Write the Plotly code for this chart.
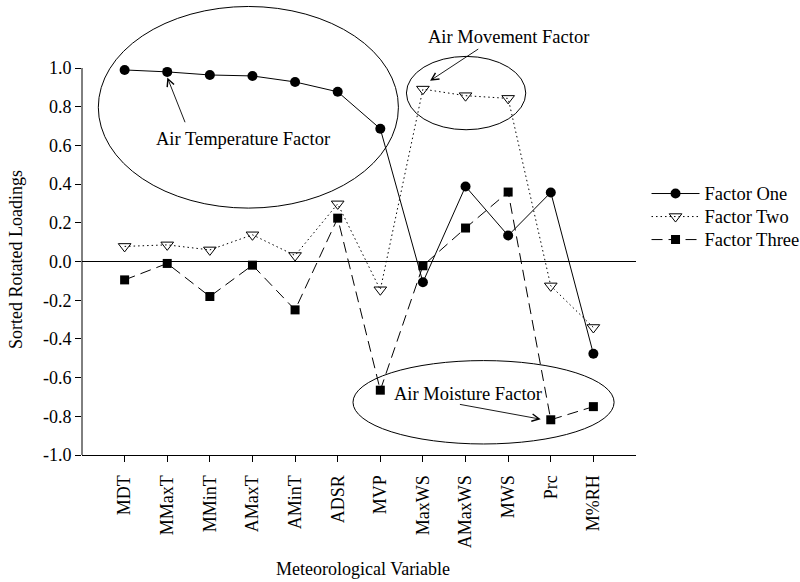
import plotly.graph_objects as go

categories = ["MDT", "MMaxT", "MMinT", "AMaxT", "AMinT", "ADSR", "MVP",
              "MaxWS", "AMaxWS", "MWS", "Prc", "M%RH"]
factor_one = [0.99, 0.98, 0.964, 0.959, 0.928, 0.877, 0.686,
              -0.107, 0.388, 0.134, 0.357, -0.477]
factor_two = [0.078, 0.086, 0.060, 0.138, 0.031, 0.298, -0.146,
              0.891, 0.857, 0.843, -0.126, -0.341]
factor_three = [-0.095, -0.010, -0.181, -0.019, -0.250, 0.224, -0.665,
                -0.022, 0.173, 0.359, -0.818, -0.750]
y_ticks = [-1.0, -0.8, -0.6, -0.4, -0.2, 0.0, 0.2, 0.4, 0.6, 0.8, 1.0]
y_tick_labels = [f"{v:.1f}" for v in y_ticks]
series_names = ["Factor One", "Factor Two", "Factor Three"]

FONT = "Liberation Serif, Times New Roman, serif"
FS_TICK = 18
FS_TEXT = 18.5
FS_TITLE = 18
YMIN, YMAX = -1.0, 1.336

def leg(name):
    return f'<span style="font-size:{FS_TEXT}px">{name}</span>'

fig = go.Figure()
fig.add_trace(go.Scatter(
    x=categories, y=factor_one, name=leg(series_names[0]), mode="lines+markers",
    line=dict(color="black", width=1),
    marker=dict(symbol="circle", size=10, color="black")))
fig.add_trace(go.Scatter(
    x=categories, y=factor_two, name=leg(series_names[1]), mode="lines+markers",
    line=dict(color="black", width=1, dash="1.5px,3px"),
    marker=dict(symbol="triangle-down-open", size=11, color="black",
                line=dict(width=1, color="black"))))
fig.add_trace(go.Scatter(
    x=categories, y=factor_three, name=leg(series_names[2]), mode="lines+markers",
    line=dict(color="black", width=1, dash="11px,6px"),
    marker=dict(symbol="square", size=9, color="black")))

# ellipses (groupings)
ellipses = [(-0.617, 0.276, 6.425, 1.318),
            (6.613, 0.681, 9.413, 1.060),
            (5.359, -0.943, 11.486, -0.512)]
for x0, y0, x1, y1 in ellipses:
    fig.add_shape(type="circle", xref="x", yref="y", x0=x0, y0=y0, x1=x1, y1=y1,
                  line=dict(color="black", width=1), layer="above")

# y-axis line from -1 to 1
def py(v):
    return (v - YMIN) / (YMAX - YMIN)
fig.add_shape(type="line", xref="paper", yref="paper", x0=0, x1=0,
              y0=py(-1.0), y1=py(1.0), line=dict(color="black", width=1))

labels = [("Air Temperature Factor", 2.782, 0.633),
          ("Air Movement Factor", 9.01, 1.160),
          ("Air Moisture Factor", 8.059, -0.686)]
for t, x, y in labels:
    fig.add_annotation(text=t, x=x, y=y, xref="x", yref="y", showarrow=False,
                       font=dict(family=FONT, size=FS_TEXT, color="black"))

arrows = [((1.432, 0.712), (1.002, 0.951)),
          ((8.333, 1.103), (7.167, 0.934)),
          ((7.833, -0.737), (9.765, -0.815))]
for (tx, ty), (hx, hy) in arrows:
    fig.add_annotation(text="", x=hx, y=hy, ax=tx, ay=ty, xref="x", yref="y",
                       axref="x", ayref="y", showarrow=True, arrowhead=5,
                       arrowsize=1.6, arrowwidth=0.9, arrowcolor="black")

fig.add_annotation(text="Sorted Rotated Loadings", textangle=-90, xref="paper", yref="y",
                   x=-0.12, y=0.01, showarrow=False, xanchor="center", yanchor="middle",
                   font=dict(family=FONT, size=FS_TITLE, color="black"))
fig.add_annotation(text="Meteorological Variable", xref="paper", yref="paper",
                   x=0.507, y=-0.252, showarrow=False, xanchor="center", yanchor="middle",
                   font=dict(family=FONT, size=FS_TITLE, color="black"))

fig.update_layout(
    width=800, height=582,
    margin=dict(l=82, r=164, t=3, b=127, autoexpand=False),
    paper_bgcolor="white", plot_bgcolor="white",
    font=dict(family=FONT, size=FS_TICK, color="black"),
    showlegend=True,
    legend=dict(x=1.019, y=0.615, xanchor="left", yanchor="top",
                font=dict(family=FONT, size=15.4, color="black"),
                bgcolor="rgba(0,0,0,0)", itemwidth=48, tracegroupgap=0),
    xaxis=dict(type="category", range=[-1, 12], showline=True, linecolor="black",
               linewidth=1, ticks="outside", ticklen=6, tickcolor="black",
               tickangle=-90, showgrid=False, zeroline=False, ticklabelstandoff=6,
               automargin=False,
               tickfont=dict(family=FONT, size=FS_TICK, color="black")),
    yaxis=dict(range=[YMIN, YMAX], showline=False, ticks="outside", ticklen=6,
               tickcolor="black", tickvals=y_ticks, ticktext=y_tick_labels,
               showgrid=False, zeroline=True, zerolinecolor="black", zerolinewidth=1,
               automargin=False,
               tickfont=dict(family=FONT, size=FS_TICK, color="black")),
)

fig.write_html("out.html")
